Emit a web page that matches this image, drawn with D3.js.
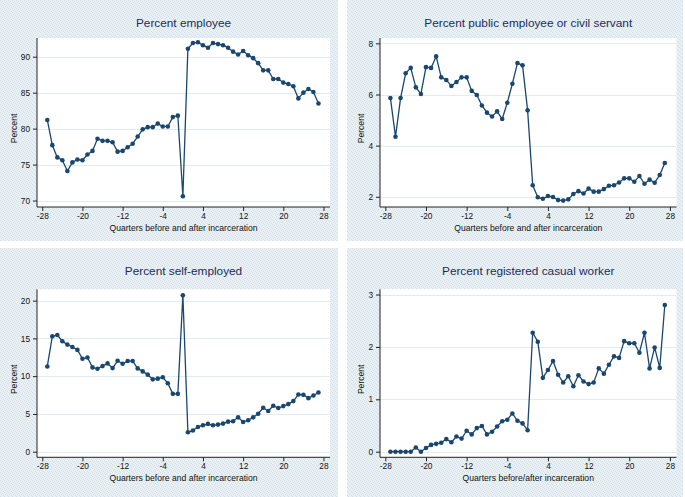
<!DOCTYPE html>
<html>
<head>
<meta charset="utf-8">
<script src="https://cdn.jsdelivr.net/npm/d3@7"></script>
<style>
  html, body { margin: 0; padding: 0; background: #ffffff; }
  svg { display: block; font-family: "Liberation Sans", Arial, sans-serif; }
</style>
</head>
<body>
<svg id="chart" width="685" height="497"></svg>
<script>
// ---------------- data ----------------
const quarters = [-27,-26,-25,-24,-23,-22,-21,-20,-19,-18,-17,-16,-15,-14,-13,-12,-11,-10,-9,-8,-7,-6,-5,-4,-3,-2,-1,0,1,
  2,3,4,5,6,7,8,9,10,11,12,13,14,15,16,17,18,19,20,21,22,23,24,25,26,27];

const employee = [81.2,77.7,76.0,75.6,74.1,75.3,75.7,75.6,76.4,76.9,78.6,78.3,78.3,78.1,76.8,76.9,77.4,77.9,78.9,79.9,80.2,80.2,80.7,80.3,80.3,81.6,81.8,70.6,91.1,
  91.9,92.0,91.6,91.25,91.9,91.75,91.6,91.25,90.7,90.3,90.8,90.2,89.8,89.1,88.1,88.1,86.9,86.9,86.4,86.2,85.9,84.2,85.0,85.5,85.1,83.5];

const publicEmployee = [5.86,4.35,5.86,6.83,7.04,6.28,6.02,7.07,7.04,7.49,6.67,6.57,6.33,6.49,6.67,6.67,6.14,5.98,5.57,5.29,5.14,5.34,5.04,5.68,6.42,7.23,7.14,5.38,2.45,
  1.98,1.92,2.03,1.99,1.87,1.85,1.90,2.11,2.22,2.13,2.32,2.20,2.20,2.30,2.43,2.45,2.56,2.72,2.72,2.59,2.81,2.51,2.67,2.55,2.85,3.32];

const selfEmployed = [11.29,15.27,15.45,14.62,14.18,13.87,13.48,12.30,12.47,11.16,10.98,11.33,11.69,11.07,12.04,11.64,12.0,12.0,11.03,10.63,10.2,9.58,9.67,9.85,9.06,7.66,7.66,20.7,2.58,
  2.8,3.28,3.5,3.68,3.5,3.59,3.72,3.98,4.03,4.55,3.94,4.16,4.55,5.03,5.82,5.38,6.08,5.78,6.04,6.3,6.7,7.57,7.53,7.09,7.44,7.83];

const casualWorker = [0,0,0,0,0,0.08,0,0.07,0.13,0.15,0.17,0.24,0.18,0.29,0.25,0.40,0.33,0.45,0.49,0.33,0.38,0.48,0.58,0.61,0.73,0.59,0.54,0.41,2.27,
  2.10,1.41,1.56,1.73,1.47,1.32,1.44,1.25,1.46,1.34,1.29,1.32,1.59,1.49,1.66,1.82,1.79,2.11,2.07,2.07,1.89,2.27,1.59,1.99,1.60,2.80];

const titles = ["Percent employee", "Percent public employee or civil servant", "Percent self-employed", "Percent registered casual worker"];
const xTitles = ["Quarters before and after incarceration", "Quarters before and after incarceration",
                 "Quarters before and after incarceration", "Quarters before/after incarceration"];
const yTitle = "Percent";
const xTickValues = [-28,-20,-12,-4,4,12,20,28];
const employeeTicks = [70,75,80,85,90];
const publicTicks = [2,4,6,8];
const selfTicks = [0,5,10,15,20];
const casualTicks = [0,1,2,3];

// ---------------- layout ----------------
const svg = d3.select("#chart");
const defs = svg.append("defs");
const pat = defs.append("pattern").attr("id","bg").attr("width",4).attr("height",4)
  .attr("patternUnits","userSpaceOnUse");
pat.append("rect").attr("width",4).attr("height",4).attr("fill","#eaf1f4");
[[0,0],[2,1],[1,2],[3,3]].forEach(([px,py]) =>
  pat.append("rect").attr("x",px).attr("y",py).attr("width",1).attr("height",1).attr("fill","#d3dfe6"));

const NAVY = "#1a476f";
const panels = [
  {values: employee, ticks: employeeTicks, yDom: [69.1, 92.6], box: [0,0,338,241],   plot: [37,330,38,207]},
  {values: publicEmployee, ticks: publicTicks, yDom: [1.6, 8.21], box: [347,0,683,241], plot: [380,676.5,38,207]},
  {values: selfEmployed, ticks: selfTicks, yDom: [-0.74, 21.5], box: [0,248,338,497], plot: [37,330,289.3,457.3]},
  {values: casualWorker, ticks: casualTicks, yDom: [-0.107, 3.1], box: [347,248,683,497], plot: [380,676.5,289.3,457.3]}
];

panels.forEach((p, i) => {
  const [bx0, by0, bx1, by1] = p.box;
  const [px0, px1, py0, py1] = p.plot;
  const g = svg.append("g");
  g.append("rect").attr("x",bx0).attr("y",by0).attr("width",bx1-bx0).attr("height",by1-by0).attr("fill","url(#bg)");
  g.append("rect").attr("x",px0).attr("y",py0).attr("width",px1-px0).attr("height",py1-py0).attr("fill","#ffffff");

  const x = d3.scaleLinear().domain([-29.05, 29.3]).range([px0, px1]);
  const y = d3.scaleLinear().domain(p.yDom).range([py1, py0]);

  // gridlines
  g.append("g").selectAll("line").data(p.ticks).join("line")
    .attr("x1", px0).attr("x2", px1)
    .attr("y1", d => Math.round(y(d)) + 0.5).attr("y2", d => Math.round(y(d)) + 0.5)
    .attr("stroke", "#e2ecef").attr("stroke-width", 1.2);

  // axes
  const yAxis = d3.axisLeft(y).tickValues(p.ticks).tickSize(4).tickPadding(3).tickFormat(d3.format("d"));
  const ya = g.append("g").attr("transform", `translate(${px0},0)`).call(yAxis);
  const xAxis = d3.axisBottom(x).tickValues(xTickValues).tickSize(4).tickPadding(2).tickFormat(d => d < 0 ? "-" + Math.abs(d) : String(d));
  const xa = g.append("g").attr("transform", `translate(0,${py1})`).call(xAxis);
  [ya, xa].forEach(a => {
    a.select(".domain").attr("stroke", "#222").attr("stroke-width", 1);
    a.selectAll(".tick line").attr("stroke", "#222");
    a.selectAll(".tick text").attr("fill", "#111").attr("font-size", "8.3px")
      .attr("font-family", "'Liberation Sans', Arial, sans-serif");
  });
  ya.select(".domain").attr("d", `M0,${py0}V${py1}`);
  xa.select(".domain").attr("d", `M${px0},0H${px1}`);

  // titles
  g.append("text").attr("x", (px0 + px1) / 2).attr("y", by0 + 27)
    .attr("text-anchor", "middle").attr("font-size", "11.8px").attr("fill", "#1c2c5c")
    .text(titles[i]);
  g.append("text").attr("x", (px0 + px1) / 2).attr("y", py1 + 23.5)
    .attr("text-anchor", "middle").attr("font-size", "8.6px").attr("fill", "#111")
    .text(xTitles[i]);
  g.append("text").attr("transform", `translate(${bx0 + 16.5},${(py0 + py1) / 2 + 6}) rotate(-90)`)
    .attr("text-anchor", "middle").attr("font-size", "8.6px").attr("fill", "#111")
    .text(yTitle);

  // series
  const pts = quarters.map((q, k) => [q, p.values[k]]);
  g.append("path").datum(pts)
    .attr("fill", "none").attr("stroke", NAVY).attr("stroke-width", 1.3).attr("stroke-linejoin", "round")
    .attr("d", d3.line().x(d => x(d[0])).y(d => y(d[1])));
  g.append("g").selectAll("circle").data(pts).join("circle")
    .attr("cx", d => x(d[0])).attr("cy", d => y(d[1])).attr("r", 2.3).attr("fill", NAVY);
});
</script>
</body>
</html>
